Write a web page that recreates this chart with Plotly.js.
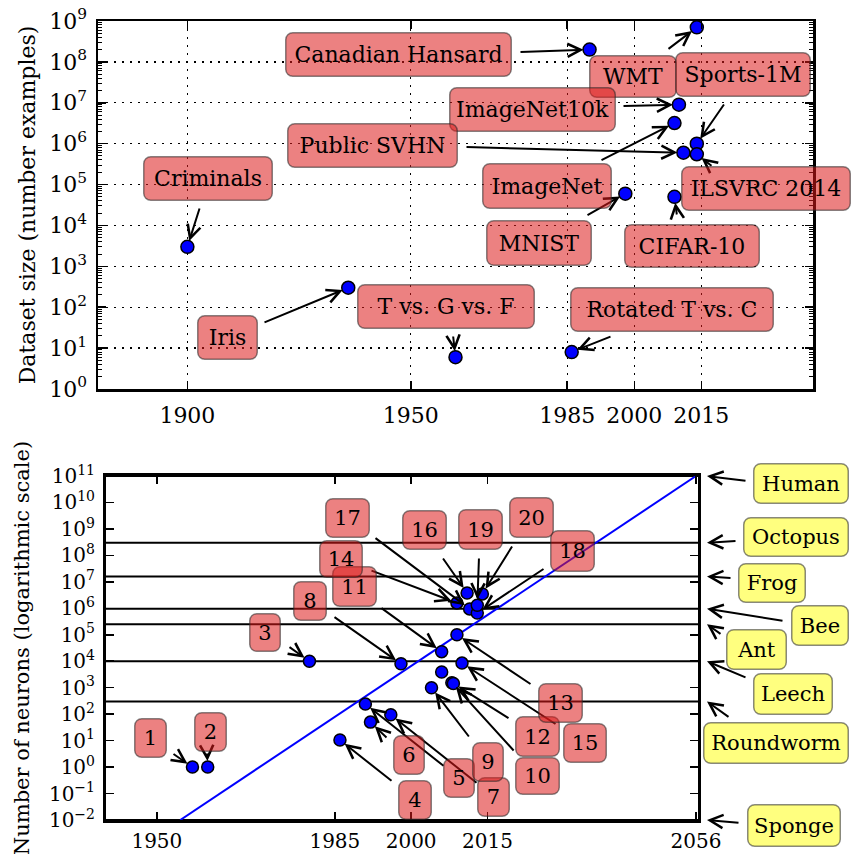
<!DOCTYPE html>
<html>
<head>
<meta charset="utf-8">
<script src="https://cdn.plot.ly/plotly-3.0.1.min.js"></script>
<style>
html,body{margin:0;padding:0;background:#fff;}
#chart{width:851px;height:854px;}
</style>
</head>
<body>
<div id="chart"></div>
<script>
// ---------------- DATA: dataset sizes (top panel) ----------------
const datasetNames = ['Criminals','Iris','T vs. G vs. F','Rotated T vs. C','MNIST','Canadian Hansard','WMT','ImageNet10k','ImageNet','Public SVHN','Sports-1M','ILSVRC 2014','CIFAR-10'];
const datasetYears = [1900, 1936, 1960, 1986, 1998, 1990, 2014, 2010, 2009, 2011, 2014, 2014, 2009];
const datasetSizes = [3000, 300, 6, 8, 6e4, 2e8, 7e8, 9e6, 3.2e6, 6e5, 1e6, 5.5e5, 5e4];
const datasetYearTicks = [1900, 1950, 1985, 2000, 2015];
const datasetSizeTicks = [1, 10, 100, 1e3, 1e4, 1e5, 1e6, 1e7, 1e8, 1e9];
const datasetSizeTickText = ['10<sup>0</sup>','10<sup>1</sup>','10<sup>2</sup>','10<sup>3</sup>','10<sup>4</sup>','10<sup>5</sup>','10<sup>6</sup>','10<sup>7</sup>','10<sup>8</sup>','10<sup>9</sup>'];

// ---------------- DATA: number of neurons (bottom panel) ----------------
const netIds     = ['1','2','3','4','5','6','7','8','9','10','11','12','13','14','15','16','17','18','19','20',''];
const netYears   = [1957, 1960, 1980, 1986, 1991, 1992, 1996, 1998, 2004, 2008, 2006, 2008.3, 2009, 2009, 2010, 2011, 2011.5, 2013, 2013, 2014, 2006];
const netNeurons = [1, 1, 1e4, 10.5, 240, 50, 95, 8000, 1000, 1550, 2.3e4, 1450, 1e5, 1.6e6, 8500, 3.8e6, 9.5e5, 6.6e5, 1.3e6, 3.5e6, 3900];
const organismNames   = ['Human','Octopus','Frog','Bee','Ant','Leech','Roundworm','Sponge'];
const organismNeurons = [1e11, 3e8, 1.6e7, 9.6e5, 2.5e5, 1e4, 300, 1e-2];
const trendYears   = [1954.6, 2056];
const trendNeurons = [1e-2, 1e11];
const neuronYearTicks = [1950, 1985, 2000, 2015, 2056];
const neuronTicks = [1e-2, 1e-1, 1, 10, 100, 1e3, 1e4, 1e5, 1e6, 1e7, 1e8, 1e9, 1e10, 1e11];
const neuronTickText = ['10<sup>\u22122</sup>','10<sup>\u22121</sup>','10<sup>0</sup>','10<sup>1</sup>','10<sup>2</sup>','10<sup>3</sup>','10<sup>4</sup>','10<sup>5</sup>','10<sup>6</sup>','10<sup>7</sup>','10<sup>8</sup>','10<sup>9</sup>','10<sup>10</sup>','10<sup>11</sup>'];

// ---------------- LAYOUT GEOMETRY (pixels) ----------------
const W = 851, H = 854;
const P1 = {l: 98, r: 813, t: 21, b: 389, x0: 1880, x1: 2040, y0: 0, y1: 9};
const P2 = {l: 106, r: 698, t: 476, b: 820, x0: 1940, x1: 2056.4, y0: -2, y1: 11};
function toPx(P, x, v) {
  return [P.l + (x - P.x0) / (P.x1 - P.x0) * (P.r - P.l),
          P.b - (Math.log10(v) - P.y0) / (P.y1 - P.y0) * (P.b - P.t)];
}
// label boxes: [centerX, centerY, width, height, arrowTailX, arrowTailY]
const topBoxes = {
  'Criminals':        [208, 178.5, 130, 45, 200, 207],
  'Iris':             [227.5, 337.5, 61, 45, 263, 323],
  'T vs. G vs. F':    [446, 306.5, 178, 45, 453, 335],
  'Rotated T vs. C':  [672, 309.5, 204, 45, 612, 336],
  'MNIST':            [539, 243, 106, 46, 586, 216],
  'Canadian Hansard': [398.5, 54.5, 227, 45, 519, 52],
  'WMT':              [633, 76.5, 88, 43, 667, 50],
  'ImageNet10k':      [532.5, 109.5, 167, 45, 622, 106],
  'ImageNet':         [547, 186, 130, 46, 600, 161],
  'Public SVHN':      [372.5, 145.5, 171, 45, 465, 147],
  'Sports-1M':        [743, 74.5, 136, 45, 725, 103],
  'ILSVRC 2014':      [766, 188.5, 170, 45, 713, 167],
  'CIFAR-10':         [692, 246, 136, 44, 677, 216]
};
const netBoxes = {
  '1': [150, 738, 33, 40, 172, 753],   '2': [210.5, 732, 33, 40, 207, 752],
  '3': [265, 632.5, 32, 39, 288, 646], '4': [415, 800, 34, 40, 393, 782],
  '5': [459, 778, 32, 40, 445, 767],   '6': [409, 755, 32, 40, 388, 739],
  '7': [493.5, 797, 33, 40, 478, 784], '8': [310, 601, 34, 40, 333, 616],
  '9': [488, 762, 32, 40, 470, 738],   '10': [537.5, 776, 45, 38, 515, 752],
  '11': [354.5, 586.5, 45, 41, 380, 607], '12': [537.5, 736.5, 45, 41, 510, 719],
  '13': [560.5, 703, 45, 40, 532, 685],   '14': [341, 559, 44, 38, 370, 570],
  '15': [585, 743, 44, 40, 557, 725],     '16': [424.5, 530, 45, 40, 442, 557],
  '17': [347.5, 518, 45, 40, 374, 537],   '18': [572.5, 551, 45, 42, 545, 568],
  '19': [480.5, 529.5, 45, 41, 479, 557], '20': [531.5, 517.5, 45, 41, 513, 545]
};
const organismBoxes = {
  'Human':     [801, 483.5, 96, 41, 747, 481],
  'Octopus':   [796, 537, 106, 40, 737, 541],
  'Frog':      [772, 583, 68, 40, 732, 578],
  'Bee':       [820, 625.5, 58, 41, 784, 621],
  'Ant':       [756.5, 649.5, 61, 41, 722, 635],
  'Leech':     [793, 694, 80, 42, 747, 678],
  'Roundworm': [776, 743, 146, 42, 730, 718],
  'Sponge':    [794, 825.5, 94, 43, 740, 823]
};
const ORG_ARROW_X = 707;

const FONT = 'DejaVu Serif, Liberation Serif, serif';
const RED_BG = 'rgba(220,25,25,0.55)';
const YEL_BG = 'rgba(255,255,0,0.5)';
const EDGE = 'rgba(40,40,40,0.55)';

const annotations = [];
function box(b, text, bg, size) {
  annotations.push({xref: 'paper', yref: 'paper', x: b[0] / W, y: 1 - b[1] / H,
    xanchor: 'center', yanchor: 'middle', text: text, showarrow: false,
    bgcolor: bg, bordercolor: EDGE, borderwidth: 1.5, borderpad: 0,
    width: b[2] - 3, height: b[3] - 3, font: {family: FONT, size: size, color: 'black'}});
}
function arrow(xref, yref, x, y, headPx, tail) {
  annotations.push({xref: xref, yref: yref, x: x, y: y, text: '', showarrow: true,
    ax: tail[0] - headPx[0], ay: tail[1] - headPx[1], axref: 'pixel', ayref: 'pixel',
    arrowhead: 5, arrowsize: 1.3, arrowwidth: 2, arrowcolor: 'black',
    standoff: 6, startstandoff: 0, font: {size: 1}});
}

// top panel labels + arrows
datasetNames.forEach((n, i) => {
  const b = topBoxes[n];
  const hp = toPx(P1, datasetYears[i], datasetSizes[i]);
  arrow('x', 'y', datasetYears[i], Math.log10(datasetSizes[i]), hp, [b[4], b[5]]);
});
datasetNames.forEach(n => box(topBoxes[n], n, RED_BG, 22));

// bottom panel labels + arrows
netIds.forEach((id, i) => {
  if (!id) return;
  const b = netBoxes[id];
  const hp = toPx(P2, netYears[i], netNeurons[i]);
  arrow('x2', 'y2', netYears[i], Math.log10(netNeurons[i]), hp, [b[4], b[5]]);
});
netIds.forEach(id => { if (id) box(netBoxes[id], id, RED_BG, 21); });

// organism labels + arrows
organismNames.forEach((n, i) => {
  const b = organismBoxes[n];
  const hp = [ORG_ARROW_X, toPx(P2, 2000, organismNeurons[i])[1]];
  annotations.push({xref: 'paper', yref: 'y2', x: ORG_ARROW_X / W, y: Math.log10(organismNeurons[i]),
    text: '', showarrow: true, ax: b[4] - hp[0], ay: b[5] - hp[1], axref: 'pixel', ayref: 'pixel',
    arrowhead: 5, arrowsize: 1.3, arrowwidth: 2, arrowcolor: 'black', standoff: 0, font: {size: 1}});
  box(b, n, YEL_BG, 21);
});

// organism reference lines (shapes on a log axis take data values)
const shapes = organismNeurons.map(v => ({type: 'line', xref: 'x2 domain', x0: 0, x1: 1,
  yref: 'y2', y0: v, y1: v, layer: 'below',
  line: {color: 'black', width: 2}}));

const traces = [
  {type: 'scatter', mode: 'markers', x: datasetYears, y: datasetSizes, xaxis: 'x', yaxis: 'y',
   marker: {color: '#0000ff', size: 13, line: {color: 'black', width: 1.5}}, hoverinfo: 'skip'},
  {type: 'scatter', mode: 'lines', x: trendYears, y: trendNeurons, xaxis: 'x2', yaxis: 'y2',
   line: {color: '#0000ff', width: 2}, hoverinfo: 'skip'},
  {type: 'scatter', mode: 'markers', x: netYears, y: netNeurons, xaxis: 'x2', yaxis: 'y2',
   marker: {color: '#0000ff', size: 12, line: {color: 'black', width: 1.5}}, hoverinfo: 'skip'}
];

const tickFont1 = {family: FONT, size: 22, color: 'black'};
const tickFont2 = {family: FONT, size: 20, color: 'black'};
const axisCommon = {showline: true, linecolor: 'black', mirror: 'allticks', ticks: 'inside',
  tickcolor: 'black', tickwidth: 1.5, zeroline: false, automargin: false, fixedrange: true};

const layout = {
  width: W, height: H, margin: {l: 0, r: 0, t: 0, b: 0},
  paper_bgcolor: 'white', plot_bgcolor: 'white', showlegend: false,
  font: {family: FONT, color: 'black'},
  xaxis: Object.assign({}, axisCommon, {domain: [P1.l / W, P1.r / W], anchor: 'y',
    range: [P1.x0, P1.x1], tickmode: 'array', tickvals: datasetYearTicks,
    ticktext: datasetYearTicks.map(String), ticklen: 8, linewidth: 2.5,
    showgrid: true, gridcolor: 'black', griddash: '2px,6px', gridwidth: 1.3,
    tickfont: tickFont1, ticklabelstandoff: 5}),
  yaxis: Object.assign({}, axisCommon, {domain: [1 - P1.b / H, 1 - P1.t / H], anchor: 'x',
    type: 'log', range: [P1.y0, P1.y1], tickmode: 'array', tickvals: datasetSizeTicks,
    ticktext: datasetSizeTickText, ticklen: 8, linewidth: 2.5,
    showgrid: true, gridcolor: 'black', griddash: '2px,6px', gridwidth: 1.3,
    minor: {dtick: 'D1', ticks: 'inside', ticklen: 4, tickcolor: 'black', tickwidth: 1, showgrid: false},
    tickfont: tickFont1, ticklabelstandoff: 4,
    title: {text: 'Dataset size (number examples)', font: {family: FONT, size: 22, color: 'black'}, standoff: 8}}),
  xaxis2: Object.assign({}, axisCommon, {domain: [P2.l / W, P2.r / W], anchor: 'y2',
    range: [P2.x0, P2.x1], tickmode: 'array', tickvals: neuronYearTicks,
    ticktext: neuronYearTicks.map(String), ticklen: 8, linewidth: 3, showgrid: false,
    tickfont: tickFont2, ticklabelstandoff: 1}),
  yaxis2: Object.assign({}, axisCommon, {domain: [1 - P2.b / H, 1 - P2.t / H], anchor: 'x2',
    type: 'log', range: [P2.y0, P2.y1], tickmode: 'array', tickvals: neuronTicks,
    ticktext: neuronTickText, ticklen: 8, linewidth: 3, showgrid: false,
    tickfont: tickFont2, ticklabelstandoff: 4,
    title: {text: 'Number of neurons (logarithmic scale)', font: {family: FONT, size: 21, color: 'black'}, standoff: 14}}),
  shapes: shapes,
  annotations: annotations
};

Plotly.newPlot('chart', traces, layout, {displayModeBar: false, staticPlot: true}).then(gd => {
  gd.querySelectorAll('.annotation-text-g rect.bg').forEach(r => {
    r.setAttribute('rx', 7); r.setAttribute('ry', 7);
  });
});
</script>
</body>
</html>
